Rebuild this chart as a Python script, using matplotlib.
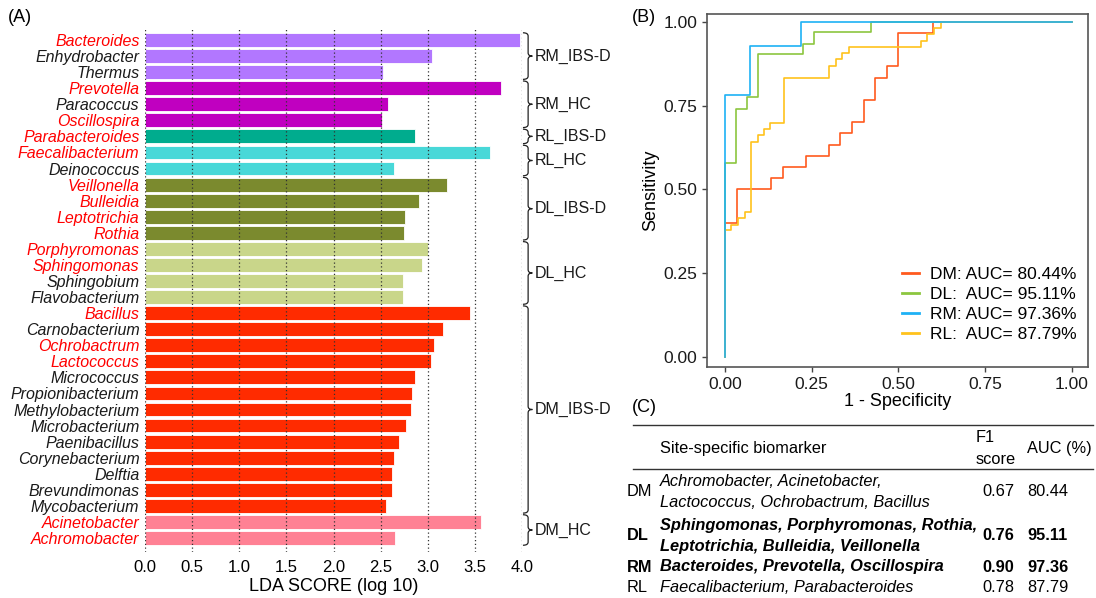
import matplotlib
matplotlib.use("Agg")
import matplotlib.pyplot as plt
from matplotlib.path import Path
from matplotlib.patches import PathPatch
from matplotlib.lines import Line2D
import numpy as np

plt.rcParams['font.family'] = ['Liberation Sans', 'DejaVu Sans']

# ---- panel A data: LEfSe LDA scores ----
genera = ["Bacteroides", "Enhydrobacter", "Thermus",
          "Prevotella", "Paracoccus", "Oscillospira",
          "Parabacteroides",
          "Faecalibacterium", "Deinococcus",
          "Veillonella", "Bulleidia", "Leptotrichia", "Rothia",
          "Porphyromonas", "Sphingomonas", "Sphingobium", "Flavobacterium",
          "Bacillus", "Carnobacterium", "Ochrobactrum", "Lactococcus",
          "Micrococcus", "Propionibacterium", "Methylobacterium",
          "Microbacterium", "Paenibacillus", "Corynebacterium", "Delftia",
          "Brevundimonas", "Mycobacterium",
          "Acinetobacter", "Achromobacter"]
lda = [3.98, 3.04, 2.53,
       3.78, 2.58, 2.51,
       2.86,
       3.66, 2.64,
       3.20, 2.91, 2.76, 2.75,
       3.00, 2.94, 2.74, 2.74,
       3.45, 3.16, 3.07, 3.03,
       2.87, 2.83, 2.82,
       2.77, 2.70, 2.64, 2.62,
       2.62, 2.56,
       3.57, 2.65]
# genera selected as site-specific biomarkers (red labels)
selected = ["Bacteroides", "Prevotella", "Oscillospira", "Parabacteroides",
            "Faecalibacterium", "Veillonella", "Bulleidia", "Leptotrichia",
            "Rothia", "Porphyromonas", "Sphingomonas", "Bacillus",
            "Ochrobactrum", "Lactococcus", "Acinetobacter", "Achromobacter"]
groups = ["RM_IBS-D", "RM_HC", "RL_IBS-D", "RL_HC",
          "DL_IBS-D", "DL_HC", "DM_IBS-D", "DM_HC"]
group_sizes = [3, 3, 1, 2, 4, 4, 13, 2]
group_colors = ["#B277FF", "#C000C0", "#00AC8E", "#48D8D8",
                "#7B8A2E", "#C9D68A", "#FF2B00", "#FF8194"]

# ---- panel B data: ROC step points ----
dm_fpr = [0, 0, 0.034, 0.133, 0.166, 0.233, 0.30, 0.333, 0.366, 0.40,
          0.433, 0.466, 0.50, 0.60, 1.0]
dm_tpr = [0, 0.40, 0.50, 0.533, 0.567, 0.60, 0.633, 0.667, 0.70, 0.767,
          0.833, 0.867, 0.967, 1.0, 1.0]
dl_fpr = [0, 0, 0.032, 0.0625, 0.096, 0.226, 0.257, 0.42, 1.0]
dl_tpr = [0, 0.58, 0.741, 0.774, 0.903, 0.935, 0.968, 1.0, 1.0]
rl_fpr = [0, 0, 0.016, 0.038, 0.058, 0.075, 0.096, 0.1125, 0.13, 0.17,
          0.301, 0.32, 0.338, 0.358, 0.565, 0.584, 0.603, 0.623, 1.0]
rl_tpr = [0, 0.378, 0.393, 0.413, 0.433, 0.642, 0.662, 0.679, 0.698, 0.831,
          0.869, 0.888, 0.907, 0.925, 0.943, 0.963, 0.982, 1.0, 1.0]
rm_fpr = [0, 0, 0.072, 0.218, 1.0]
rm_tpr = [0, 0.781, 0.927, 1.0, 1.0]
roc_labels = ["DM: AUC= 80.44%", "DL:  AUC= 95.11%",
              "RM: AUC= 97.36%", "RL:  AUC= 87.79%"]
roc_colors = ["#FF5A1E", "#8CC63F", "#1EB1F5", "#FFC21C"]

# ---- panel C data: table ----
sites = ["DM", "DL", "RM", "RL"]
markers = [["Achromobacter, Acinetobacter,", "Lactococcus, Ochrobactrum, Bacillus"],
           ["Sphingomonas, Porphyromonas, Rothia,", "Leptotrichia, Bulleidia, Veillonella"],
           ["Bacteroides, Prevotella, Oscillospira"],
           ["Faecalibacterium, Parabacteroides"]]
f1 = ["0.67", "0.76", "0.90", "0.78"]
auc = ["80.44", "95.11", "97.36", "87.79"]
bold_rows = [False, True, True, False]

W, H = 1096, 598
fig = plt.figure(figsize=(W / 100, H / 100), dpi=100)


def fx(x):
    return x / W


def fy(y):
    return 1 - y / H


# ================= panel A =================
axA = fig.add_axes([fx(145), fy(552), (522 - 145) / W, (552 - 27) / H])
n = len(genera)
ypos = np.arange(n)
bar_cols = []
for c, s in zip(group_colors, group_sizes):
    bar_cols += [c] * s
axA.barh(ypos, lda, height=0.86, color=bar_cols, edgecolor="white",
         linewidth=0.6, zorder=2)
axA.set_xlim(0, 4)
axA.set_ylim(n - 1 + 0.87, -0.81)
axA.set_xticks(np.arange(0, 4.01, 0.5))
axA.set_xticklabels([f"{v:.1f}" for v in np.arange(0, 4.01, 0.5)], fontsize=12)
for v in np.arange(0, 4.01, 0.5):
    axA.axvline(v, color="#333333", lw=0.9, ls=(0, (1, 2)), zorder=3)
axA.set_yticks(ypos)
axA.set_yticklabels(genera, fontsize=11.5, style="italic")
for lab in axA.get_yticklabels():
    lab.set_color("#FF0000" if lab.get_text() in selected else "#1a1a1a")
axA.tick_params(axis="both", length=0)
axA.tick_params(axis="y", pad=4)
axA.tick_params(axis="x", pad=6)
for sp in axA.spines.values():
    sp.set_visible(False)
axA.set_xlabel("LDA SCORE (log 10)", fontsize=13, labelpad=2)

# braces with group names
x0, x1, x2 = 4.01, 4.065, 4.11
start = 0
for g, s in zip(groups, group_sizes):
    top = start - 0.45
    bot = start + s - 1 + 0.45
    mid = (top + bot) / 2
    r = 0.2
    verts = [(x0, top), (x1, top), (x1, top + r),
             (x1, mid - r), (x1, mid), (x2, mid),
             (x1, mid), (x1, mid + r),
             (x1, bot - r), (x1, bot), (x0, bot)]
    codes = [Path.MOVETO, Path.CURVE3, Path.CURVE3,
             Path.LINETO, Path.CURVE3, Path.CURVE3,
             Path.CURVE3, Path.CURVE3,
             Path.LINETO, Path.CURVE3, Path.CURVE3]
    axA.add_patch(PathPatch(Path(verts, codes), fc="none", ec="#222222",
                            lw=0.9, clip_on=False))
    axA.text(x2 + 0.03, mid, g, fontsize=11.5, va="center", ha="left",
             color="#1a1a1a", clip_on=False)
    start += s

fig.text(fx(8), fy(18), "(A)", fontsize=13, va="center", ha="left")

# ================= panel B =================
axB = fig.add_axes([fx(707), fy(367), (1088 - 707) / W, (367 - 14) / H])
curves = [(dm_fpr, dm_tpr), (dl_fpr, dl_tpr), (rl_fpr, rl_tpr), (rm_fpr, rm_tpr)]
order = [0, 1, 3, 2]
handles = [None] * 4
for k, (fp, tp) in zip(order, curves):
    ln, = axB.plot(fp, tp, drawstyle="steps-post", color=roc_colors[k], lw=1.2)
    handles[k] = ln
axB.set_xlim(-0.052, 1.047)
axB.set_ylim(-0.03, 1.023)
ticks = [0, 0.25, 0.5, 0.75, 1.0]
axB.set_xticks(ticks)
axB.set_yticks(ticks)
axB.set_xticklabels([f"{t:.2f}" for t in ticks])
axB.set_yticklabels([f"{t:.2f}" for t in ticks])
axB.tick_params(labelsize=12.5, colors="#1a1a1a", length=3.5, width=1,
                color="#444444")
for sp in axB.spines.values():
    sp.set_color("#555555")
    sp.set_linewidth(1.2)
axB.set_xlabel("1 - Specificity", fontsize=13, labelpad=1)
axB.set_ylabel("Sensitivity", fontsize=13, labelpad=3)
axB.legend(handles, roc_labels, loc="upper left",
           bbox_to_anchor=(0.512, 0.283), frameon=False, fontsize=12.5,
           handlelength=1.0, handletextpad=0.6, labelspacing=0.27,
           borderpad=0, borderaxespad=0)
for h in axB.get_legend().legend_handles:
    h.set_linewidth(2)

fig.text(fx(632), fy(18), "(B)", fontsize=13, va="center", ha="left")

# ================= panel C =================
fig.text(fx(632), fy(408), "(C)", fontsize=13, va="center", ha="left")
fig.add_artist(Line2D([fx(633), fx(1093)], [fy(425), fy(425)],
                      color="#333333", lw=1))
fig.add_artist(Line2D([fx(633), fx(1093)], [fy(469), fy(469)],
                      color="#333333", lw=1))
fs = 11.8
fig.text(fx(660), fy(449), "Site-specific biomarker", fontsize=fs, va="center")
fig.text(fx(976), fy(438), "F1", fontsize=fs, va="center")
fig.text(fx(976), fy(460), "score", fontsize=fs, va="center")
fig.text(fx(1027), fy(449), "AUC (%)", fontsize=fs, va="center")

row_centers = [492, 536, 567, 587]
for site, mk, f, a, b, yc in zip(sites, markers, f1, auc, bold_rows, row_centers):
    wt = "bold" if b else "normal"
    fig.text(fx(627), fy(yc), site, fontsize=fs, va="center", weight=wt)
    if len(mk) == 2:
        fig.text(fx(660), fy(yc - 10.5), mk[0], fontsize=fs, va="center",
                 style="italic", weight=wt)
        fig.text(fx(660), fy(yc + 10.5), mk[1], fontsize=fs, va="center",
                 style="italic", weight=wt)
    else:
        fig.text(fx(660), fy(yc), mk[0], fontsize=fs, va="center",
                 style="italic", weight=wt)
    fig.text(fx(982), fy(yc), f, fontsize=fs, va="center", weight=wt)
    fig.text(fx(1027), fy(yc), a, fontsize=fs, va="center", weight=wt)

fig.savefig("out.png", dpi=100)
